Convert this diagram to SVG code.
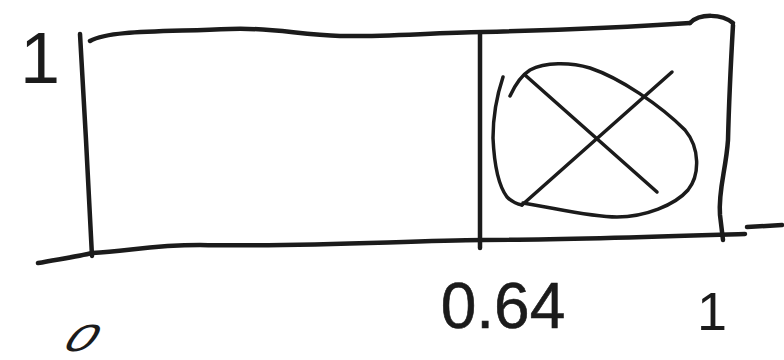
<svg xmlns="http://www.w3.org/2000/svg" width="784" height="360" viewBox="0 0 784 360">
<style>
.ink{fill:none;stroke:#1b1b1b;stroke-width:4.5;stroke-linecap:round;stroke-linejoin:round}
.thin{fill:none;stroke:#1b1b1b;stroke-width:3.5;stroke-linecap:round;stroke-linejoin:round}
.lbl{font-family:"Liberation Sans",Arial,sans-serif;fill:#1b1b1b;text-anchor:middle}
</style>
<rect width="784" height="360" fill="#ffffff"/>
<g id="frame">
<path class="ink" d="M80,34 L86,140 L92,256"/>
<path class="ink" d="M90,41 C110,30 160,32 230,29 C270,27 300,35 340,36 C380,37 430,33 483,32 C560,30 630,27 690,23"/>
<path class="ink" d="M690,23 C700,13 722,14 733,23"/>
<path class="ink" d="M38,263 C60,259 80,256 92,253 C130,251 150,245 200,245 C300,247 400,241 483,240 C560,240 650,237 745,234"/>
<path class="ink" d="M480,33 L480,248"/>
<path class="ink" d="M733,25 C731,60 729,100 728,140 C726,170 718,190 720,215 L723,240"/>
<path class="ink" d="M747,227 L782,225"/>
</g>
<g id="cross-circle">
<path class="thin" d="M510,96 C515,85 522,75 530,70 C545,62 570,62 590,68 C620,78 660,105 685,130 C700,148 700,175 688,190 C675,205 645,217 617,217 C590,217 555,208 523,203"/>
<path class="thin" d="M503,77 C497,95 493,115 493,138 C494,160 498,185 507,197 C512,202 517,204 522,205"/>
<path class="thin" d="M525,75 L657,192"/>
<path class="thin" d="M522,205 L672,72"/>
</g>
<g id="labels">
<text class="lbl" x="40" y="83" font-size="72">1</text>
<text class="lbl" transform="translate(74,351) skewX(-35) scale(1.4,1)" x="0" y="0" font-size="38">0</text>
<text class="lbl" x="503" y="328" font-size="64" stroke="#1b1b1b" stroke-width="0.6">0.64</text>
<text class="lbl" x="712" y="330" font-size="54">1</text>
</g>
</svg>
